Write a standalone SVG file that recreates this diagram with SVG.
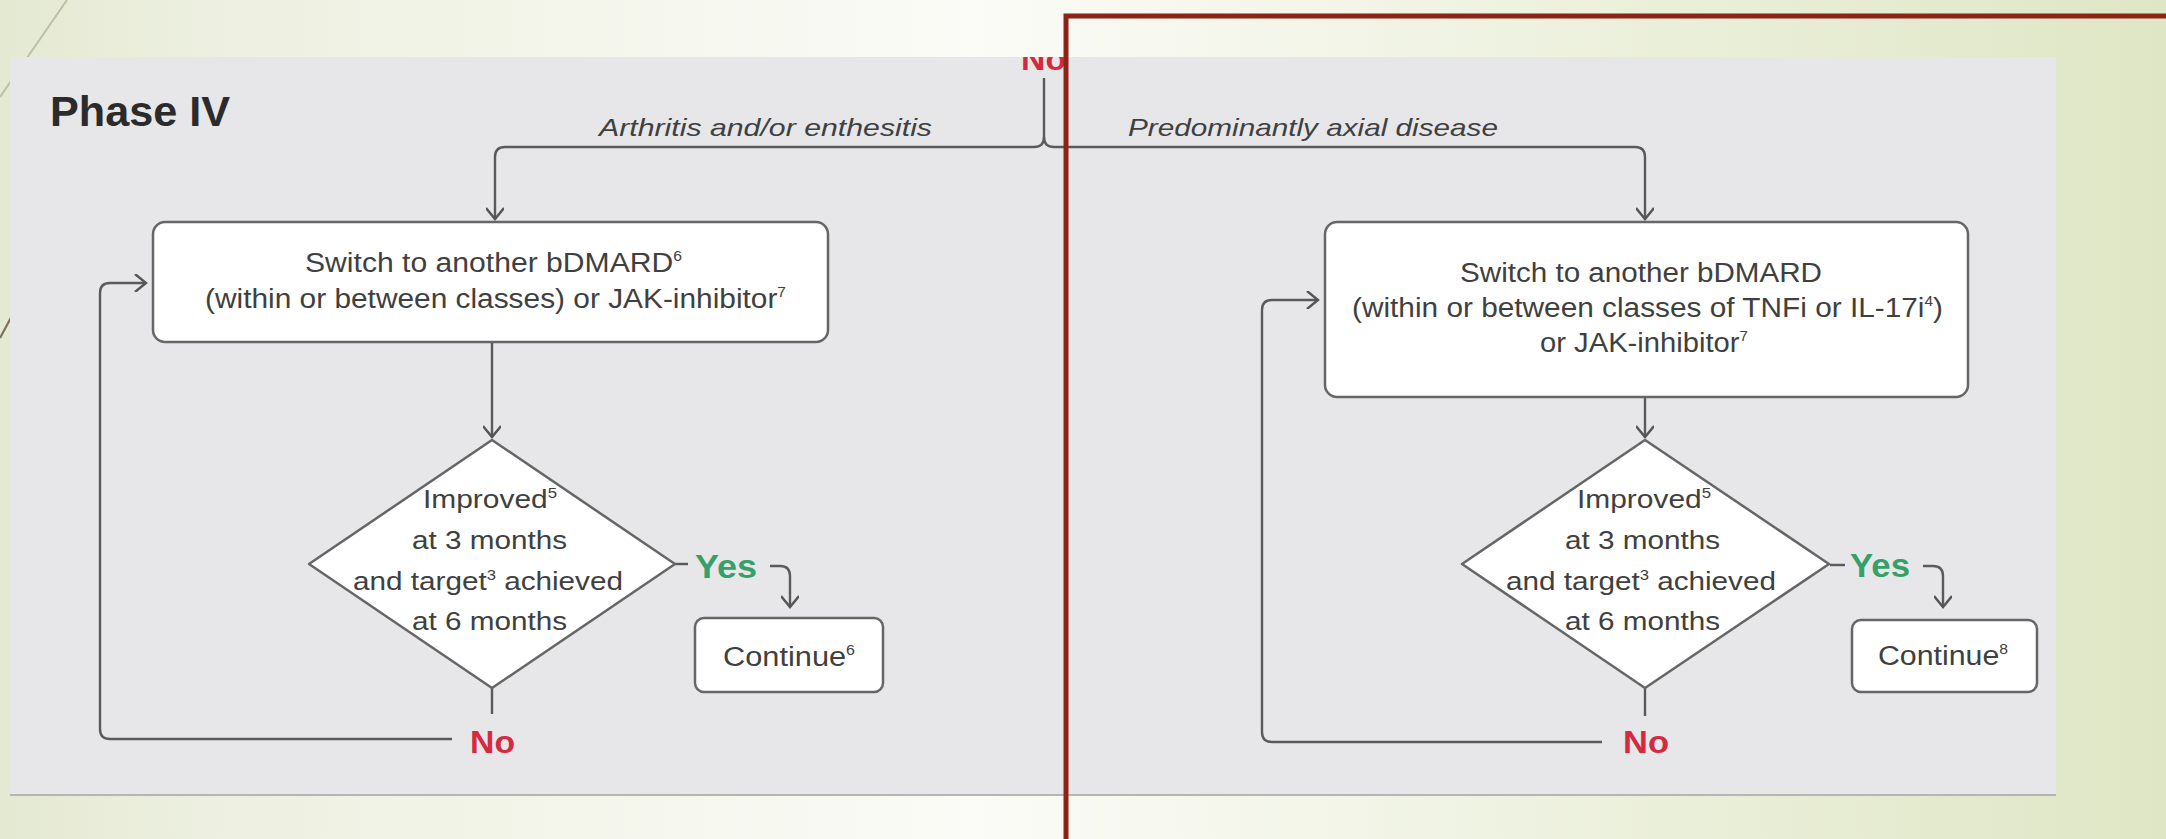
<svg xmlns="http://www.w3.org/2000/svg" width="2166" height="839" viewBox="0 0 2166 839">
<defs>
<linearGradient id="bg" x1="0" y1="0" x2="1" y2="0">
<stop offset="0" stop-color="#e4e9d2"/>
<stop offset="0.1" stop-color="#edf0e0"/>
<stop offset="0.45" stop-color="#fbfbf7"/>
<stop offset="0.7" stop-color="#eef2e0"/>
<stop offset="1" stop-color="#dfe6c5"/>
</linearGradient>
<clipPath id="panelClip"><rect x="10" y="57" width="2046" height="738"/></clipPath>
<marker id="arr" viewBox="-13 -9 15 18" refX="0" refY="0" markerWidth="15" markerHeight="18" markerUnits="userSpaceOnUse" orient="auto">
<path d="M-11,-9 L0,0 L-11,9" fill="none" stroke="#555" stroke-width="2.4" stroke-linejoin="miter"/>
</marker>
<style>
.ln{fill:none;stroke:#5a5a5a;stroke-width:2.4}
.box{fill:#fff;stroke:#666;stroke-width:2.5}
.t{font-family:"Liberation Sans",Arial,sans-serif;font-size:27px;fill:#404040}
.d{font-family:"Liberation Sans",Arial,sans-serif;font-size:25px;fill:#404040}
.lab{font-family:"Liberation Sans",Arial,sans-serif;font-size:24px;font-style:italic;fill:#404040}
.yes{font-family:"Liberation Sans",Arial,sans-serif;font-size:33px;font-weight:bold;fill:#35a06a}
.no{font-family:"Liberation Sans",Arial,sans-serif;font-size:32px;font-weight:bold;fill:#d42a40}
.sup{font-size:14px}
</style>
</defs>

<rect x="0" y="0" width="2166" height="839" fill="url(#bg)"/>
<line x1="67" y1="0" x2="0" y2="97" stroke="#bcc1a4" stroke-width="2"/>
<path d="M14,312 L0,338" stroke="#7a7055" stroke-width="2.2" fill="none"/>

<g id="panel">
<rect x="10" y="57" width="2046" height="738" fill="#e7e7e9"/>
<line x1="10" y1="795" x2="2056" y2="795" stroke="#b5b5b5" stroke-width="2"/>
</g>

<g id="title"><text x="50" y="126" font-family="Liberation Sans, Arial, sans-serif" font-size="42" font-weight="bold" fill="#2b2b2b" textLength="180" lengthAdjust="spacingAndGlyphs">Phase IV</text></g>

<g id="connectors">
<path class="ln" d="M1044,78 V137 Q1044,147 1034,147 H505 Q495,147 495,157 V219" marker-end="url(#arr)"/>
<path class="ln" d="M1044,137 Q1044,147 1054,147 H1635 Q1645,147 1645,157 V219" marker-end="url(#arr)"/>
<path class="ln" d="M492,342 V437" marker-end="url(#arr)"/>
<path class="ln" d="M1645,397 V437" marker-end="url(#arr)"/>
<path class="ln" d="M675,564 H688"/>
<path class="ln" d="M1830,565 H1845"/>
<path class="ln" d="M770,566 H780 Q790,566 790,576 V607" marker-end="url(#arr)"/>
<path class="ln" d="M1923,566 H1933 Q1943,566 1943,576 V607" marker-end="url(#arr)"/>
<path class="ln" d="M492,688 V714"/>
<path class="ln" d="M1645,688 V716"/>
<path class="ln" d="M452,739 H110 Q100,739 100,729 V293 Q100,283 110,283 H146" marker-end="url(#arr)"/>
<path class="ln" d="M1602,742 H1272 Q1262,742 1262,732 V310 Q1262,300 1272,300 H1318" marker-end="url(#arr)"/>
</g>

<g id="labels">
<text class="no" x="1021" y="70" textLength="45" lengthAdjust="spacingAndGlyphs" clip-path="url(#panelClip)">No</text>
<text class="lab" x="599" y="136" textLength="333" lengthAdjust="spacingAndGlyphs">Arthritis and/or enthesitis</text>
<text class="lab" x="1128" y="136" textLength="370" lengthAdjust="spacingAndGlyphs">Predominantly axial disease</text>
<text class="yes" x="695" y="578" textLength="62" lengthAdjust="spacingAndGlyphs">Yes</text>
<text class="yes" x="1850" y="577" textLength="60" lengthAdjust="spacingAndGlyphs">Yes</text>
<text class="no" x="470" y="753" textLength="45" lengthAdjust="spacingAndGlyphs">No</text>
<text class="no" x="1623" y="753" textLength="46" lengthAdjust="spacingAndGlyphs">No</text>
</g>

<g id="switch-left">
<rect class="box" x="153" y="222" width="675" height="120" rx="12"/>
<text class="t" x="305" y="272" textLength="377" lengthAdjust="spacingAndGlyphs">Switch to another bDMARD<tspan class="sup" dy="-11">6</tspan></text>
<text class="t" x="205" y="308" textLength="581" lengthAdjust="spacingAndGlyphs">(within or between classes) or JAK-inhibitor<tspan class="sup" dy="-11">7</tspan></text>
</g>

<g id="switch-right">
<rect class="box" x="1325" y="222" width="643" height="175" rx="12"/>
<text class="t" x="1460" y="282" textLength="362" lengthAdjust="spacingAndGlyphs">Switch to another bDMARD</text>
<text class="t" x="1352" y="317" textLength="591" lengthAdjust="spacingAndGlyphs">(within or between classes of TNFi or IL-17i<tspan class="sup" dy="-11">4</tspan><tspan dy="11">)</tspan></text>
<text class="t" x="1540" y="352" textLength="208" lengthAdjust="spacingAndGlyphs">or JAK-inhibitor<tspan class="sup" dy="-11">7</tspan></text>
</g>

<g id="decision-left">
<path class="box" d="M492,440 L675,564 L492,688 L309,564 Z" stroke-linejoin="round"/>
<text class="d" x="423" y="508" textLength="134" lengthAdjust="spacingAndGlyphs">Improved<tspan class="sup" dy="-10">5</tspan></text>
<text class="d" x="412" y="549" textLength="155" lengthAdjust="spacingAndGlyphs">at 3 months</text>
<text class="d" x="353" y="590" textLength="270" lengthAdjust="spacingAndGlyphs">and target<tspan class="sup" dy="-10">3</tspan><tspan dy="10"> achieved</tspan></text>
<text class="d" x="412" y="630" textLength="155" lengthAdjust="spacingAndGlyphs">at 6 months</text>
</g>

<g id="decision-right">
<path class="box" d="M1645,440 L1829,564 L1645,688 L1462,564 Z" stroke-linejoin="round"/>
<text class="d" x="1577" y="508" textLength="134" lengthAdjust="spacingAndGlyphs">Improved<tspan class="sup" dy="-10">5</tspan></text>
<text class="d" x="1565" y="549" textLength="155" lengthAdjust="spacingAndGlyphs">at 3 months</text>
<text class="d" x="1506" y="590" textLength="270" lengthAdjust="spacingAndGlyphs">and target<tspan class="sup" dy="-10">3</tspan><tspan dy="10"> achieved</tspan></text>
<text class="d" x="1565" y="630" textLength="155" lengthAdjust="spacingAndGlyphs">at 6 months</text>
</g>

<g id="continue-left">
<rect class="box" x="695" y="618" width="188" height="74" rx="9"/>
<text class="t" x="723" y="666" textLength="132" lengthAdjust="spacingAndGlyphs">Continue<tspan class="sup" dy="-11">6</tspan></text>
</g>

<g id="continue-right">
<rect class="box" x="1852" y="620" width="185" height="72" rx="9"/>
<text class="t" x="1878" y="665" textLength="130" lengthAdjust="spacingAndGlyphs">Continue<tspan class="sup" dy="-11">8</tspan></text>
</g>

<path id="frame" d="M2170,16 H1066 V845" fill="none" stroke="#8b2414" stroke-width="5"/>
</svg>
